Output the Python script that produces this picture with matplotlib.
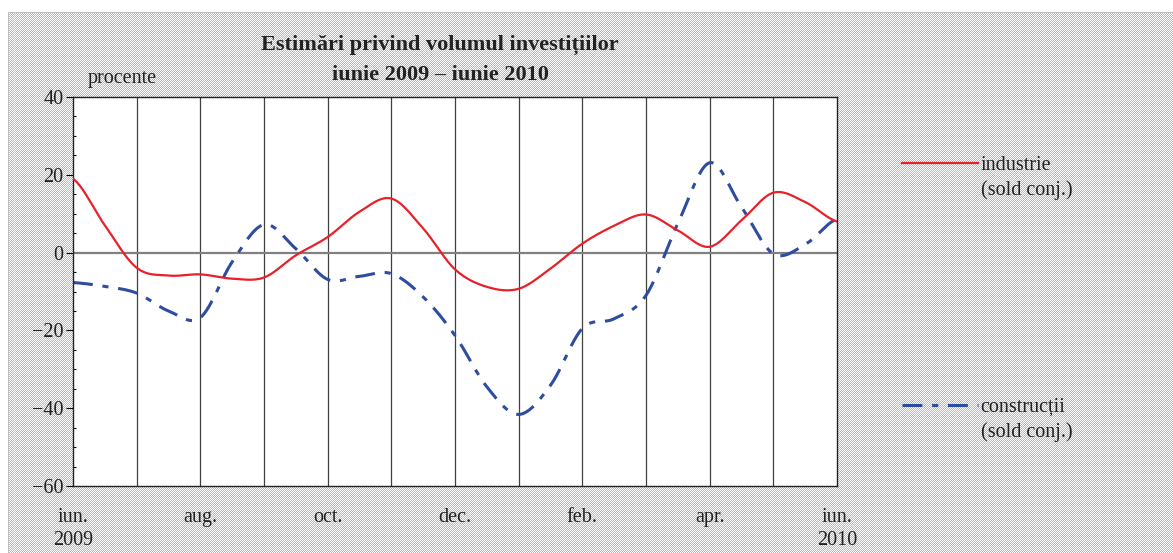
import matplotlib.pyplot as plt
import numpy as np
from matplotlib.ticker import MultipleLocator
from matplotlib.lines import Line2D

plt.rcParams['font.family'] = ['Liberation Serif', 'DejaVu Serif']

# half-month readings, jun 2009 .. jun 2010 (index in months)
months = np.arange(0, 12.5, 0.5)
industrie = [19.0, 7.0, -3.9, -5.9, -5.6, -6.7, -6.4, -0.7, 4.0, 10.5, 13.9, 6.2, -4.3,
             -8.8, -9.3, -4.1, 2.3, 6.9, 9.8, 5.7, 1.5, 8.3, 15.4, 13.0, 8.0]
constructii = [-7.7, -8.7, -10.4, -15.0, -16.7, -2.4, 7.2, 1.0, -6.9, -6.1, -5.4, -11.4, -21.3,
               -34.5, -41.6, -34.1, -19.5, -17.0, -11.0, 7.5, 23.1, 11.7, -0.3, 2.1, 8.7]
tick_pos = [0, 2, 4, 6, 8, 10, 12]
tick_lab = ["iun.\n2009", "aug.", "oct.", "dec.", "feb.", "apr.", "iun.\n2010"]

red = "#e8202a"
blue = "#2f4d9e"
txt = "#222222"
fs = 14.5


def smooth(x, y, n=24):
    # catmull-rom through the read points (like excel "smoothed line")
    y = np.asarray(y, float)
    xs, ys = [], []
    for i in range(len(y) - 1):
        p0 = y[max(i - 1, 0)]
        p1, p2 = y[i], y[i + 1]
        p3 = y[min(i + 2, len(y) - 1)]
        t = np.linspace(0, 1, n, endpoint=False)
        v = 0.5 * (2 * p1 + (-p0 + p2) * t + (2 * p0 - 5 * p1 + 4 * p2 - p3) * t ** 2
                   + (-p0 + 3 * p1 - 3 * p2 + p3) * t ** 3)
        xs.append(x[i] + t * (x[i + 1] - x[i]))
        ys.append(v)
    xs.append([x[-1]])
    ys.append([y[-1]])
    return np.concatenate(xs), np.concatenate(ys)


W, H = 1173, 553
fig = plt.figure(figsize=(W / 100, H / 100), dpi=100)

# dotted page background
bg = np.ones((H, W, 3))
ii, jj = np.mgrid[0:H, 0:W]
dots = ((ii + jj) % 2 == 1) & (ii > 12) & (jj > 8)
bg[dots] = [0.66, 0.71, 0.90]
bg[12, 8:] = [0.75, 0.75, 0.75]
bg[12:, 8] = [0.75, 0.75, 0.75]
fig.figimage(bg, xo=0, yo=0, origin='upper', zorder=-10)

ax = fig.add_axes([73 / W, 1 - 486 / H, (837 - 73) / W, (486 - 97) / H])
ax.set_zorder(1)
ax.set_facecolor("white")

for m in range(1, 12):
    ax.axvline(m, color="#404040", lw=0.9, zorder=1)
ax.axhline(0, color="#808080", lw=1.6, zorder=1)

xr, yr = smooth(months, industrie)
l1, = ax.plot(xr, yr, color=red, lw=1.6, zorder=3)
xb, yb = smooth(months, constructii)
l2, = ax.plot(xb, yb, color=blue, lw=2.2, zorder=2)
l2.set_dashes([6.5, 3.2, 2.0, 3.2])

ax.set_xlim(0, 12)
ax.set_ylim(-60, 40)
ax.yaxis.set_major_locator(MultipleLocator(20))
ax.yaxis.set_minor_locator(MultipleLocator(5))
ax.set_yticklabels(["\u2212" + str(int(-v)) if v < 0 else str(int(v))
                    for v in ax.get_yticks()])
ax.tick_params(axis='y', which='major', direction='out', length=5, width=0.8,
               labelsize=fs, labelcolor=txt, pad=2)
ax.tick_params(axis='y', which='minor', direction='in', length=2.5, width=0.8)
ax.set_xticks(tick_pos)
ax.set_xticklabels(tick_lab, linespacing=1.25)
ax.tick_params(axis='x', length=0, pad=16, labelsize=fs, labelcolor=txt)
for s in ax.spines.values():
    s.set_color("#202020")
    s.set_linewidth(1.0)

fig.text(440 / W, 1 - 45 / H, "Estimări privind volumul investițiilor", ha='center',
         va='center', fontsize=16, fontweight='bold', color=txt)
fig.text(440 / W, 1 - 75 / H, "iunie 2009 – iunie 2010", ha='center', va='center',
         fontsize=16, fontweight='bold', color=txt)
fig.text(88 / W, 1 - 79 / H, "procente", ha='left', va='center', fontsize=fs, color=txt)

blank = Line2D([], [], color='none')
leg_kw = dict(loc='upper left', frameon=False, bbox_transform=fig.transFigure,
              fontsize=fs, handlelength=3.75, handletextpad=0.15, labelcolor=txt,
              borderpad=0, borderaxespad=0, labelspacing=0.27)
leg1 = ax.legend([l1, blank], ["industrie", "(sold conj.)"],
                 bbox_to_anchor=(902 / W, 1 - 156 / H), **leg_kw)
ax.add_artist(leg1)
ax.legend([l2, blank], ["construcții", "(sold conj.)"],
          bbox_to_anchor=(902 / W, 1 - 398 / H), **leg_kw)

fig.savefig("out.png", dpi=100)
